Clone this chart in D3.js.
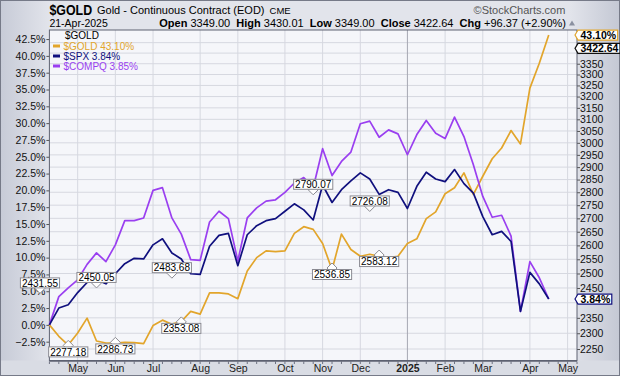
<!DOCTYPE html>
<html>
<head>
<meta charset="utf-8">
<script src="https://cdn.jsdelivr.net/npm/d3@7"></script>
<style>
  body { margin: 0; background: #fff; }
  svg { display: block; font-family: "Liberation Sans", Arial, sans-serif; }
</style>
</head>
<body>
<script>
// weekly closes, % change since week of 15-Apr-2024
const gold = [0, -1.7, -3.0, -1.2, 1.0, -2.4, -2.7, -2.7, -2.6, -2.65, -2.8,
  -0.1, 0.7, 0.1, 0.5, 2.0, 1.6, 4.75, 4.75, 4.6, 3.9, 8.0,
  10.0, 11.0, 10.9, 11.0, 13.6, 14.6, 14.2, 12.1, 8.2, 13.5, 11.2,
  10.2, 10.5, 10.2, 10.0, 10.2, 12.1, 12.8, 15.8, 16.8, 19.5, 20.4,
  22.6, 19.4, 22.1, 24.7, 26.3, 28.9, 26.9, 35.2, 38.9, 43.1];
const spx = [0, 2.5, 3.0, 4.8, 6.3, 6.7, 6.1, 7.6, 9.1, 9.9, 9.8,
  11.9, 12.8, 10.7, 9.8, 7.6, 7.5, 11.7, 13.3, 13.6, 8.8, 13.4,
  14.75, 15.5, 15.8, 16.9, 18.0, 17.1, 15.6, 20.8, 18.2, 20.1, 21.4,
  22.6, 21.7, 19.4, 20.1, 19.7, 17.3, 20.6, 22.7, 21.7, 21.3, 23.1,
  21.0, 19.6, 16.1, 13.4, 13.9, 12.4, 2.0, 7.8, 6.1, 3.84];
const compq = [0, 4.2, 5.5, 6.7, 9.0, 10.7, 9.4, 11.9, 15.5, 15.5, 15.9,
  20.0, 20.4, 15.9, 13.5, 9.7, 9.6, 15.3, 16.9, 15.8, 9.5, 15.9,
  17.4, 18.4, 18.6, 19.7, 21.1, 21.9, 20.4, 26.2, 22.2, 24.3, 25.7,
  29.9, 30.3, 27.9, 29.0, 28.4, 25.3, 28.3, 30.4, 28.5, 27.7, 30.9,
  28.0, 23.8, 19.1, 16.0, 16.3, 13.2, 2.0, 9.4, 7.0, 3.85];

const seriesNames = ["$GOLD", "$SPX", "$COMPQ"];
const seriesLabels = ["$GOLD 43.10%", "$SPX 3.84%", "$COMPQ 3.85%"];
const seriesColors = ["#e2a52b", "#10107e", "#9a3ff0"];

// gold high/low price flags (week index, price, kind)
const annIdx = [-1, 2, 5, 7, 13, 14, 28, 30, 34, 35];
const annPrice = [2431.55, 2277.18, 2450.05, 2286.73, 2483.68, 2353.08, 2790.07, 2536.85, 2726.08, 2583.12];
const annKind = ["high", "low", "high", "low", "high", "low", "high", "low", "high", "low"];

const pctTicks = d3.range(-2.5, 43, 2.5);
const priceTicks = d3.range(2250, 3451, 50);
const lastPrice = 3422.64;

const width = 620, height = 376;
const plot = {left: 49.4, right: 577, top: 30, bottom: 360.5};

// weekly bars dated Monday
const dates = d3.timeMonday.range(new Date(2024, 3, 15), new Date(2025, 4, 13));

const xScale = d3.scaleLinear().domain([0, 56]).range([plot.left, plot.right]);
const yScale = d3.scaleLinear().domain([-5.3, 43.85]).range([plot.bottom, plot.top]);
const yPrice = d3.scaleLog().domain([2214.2, 3511.4]).range([plot.bottom, plot.top]);

// last value tags on the right
const tags = [
  {y: yScale(gold[gold.length - 1]), text: "43.10%", color: seriesColors[0]},
  {y: yPrice(lastPrice), text: lastPrice.toFixed(2), color: "#111"},
  {y: yScale(spx[spx.length - 1]), text: "3.84%", color: seriesColors[1]}
];

const svg = d3.select("body").append("svg")
  .attr("width", width)
  .attr("height", height);

const defs = svg.append("defs");
const bg = defs.append("linearGradient").attr("id", "bg").attr("x1", 0).attr("x2", 1).attr("y1", 0).attr("y2", 0);
bg.append("stop").attr("offset", "0%").attr("stop-color", "#c7cbd7");
bg.append("stop").attr("offset", "8%").attr("stop-color", "#e2e4eb");
bg.append("stop").attr("offset", "92%").attr("stop-color", "#e2e4eb");
bg.append("stop").attr("offset", "100%").attr("stop-color", "#c4c8d4");

svg.append("rect")
  .attr("x", 0.5).attr("y", 0.5)
  .attr("width", width - 1).attr("height", height - 1)
  .attr("fill", "url(#bg)")
  .attr("stroke", "#767a88");

svg.append("rect")
  .attr("x", plot.left).attr("y", plot.top)
  .attr("width", plot.right - plot.left).attr("height", plot.bottom - plot.top)
  .attr("fill", "#f5f6fa");

// header
const header = svg.append("g");
header.append("text").attr("x", 49.4).attr("y", 14.5)
  .attr("font-size", 15).attr("font-weight", "bold")
  .attr("textLength", 42.7).attr("lengthAdjust", "spacingAndGlyphs")
  .text("$GOLD");
const subT = header.append("text").attr("x", 97).attr("y", 14)
  .attr("font-size", 11)
  .text("Gold - Continuous Contract (EOD)");
const subEnd = 97 + subT.node().getComputedTextLength();
header.append("text").attr("x", subEnd + 5).attr("y", 14)
  .attr("font-size", 9.5)
  .text("CME");
header.append("text").attr("x", 565.4).attr("y", 14)
  .attr("text-anchor", "end").attr("font-size", 11).attr("fill", "#555")
  .text("\u00a9StockCharts.com");
header.append("text").attr("x", 49.4).attr("y", 26.5)
  .attr("font-size", 10.5)
  .text("21-Apr-2025");

const ohlc = header.append("text").attr("x", 566).attr("y", 26.5)
  .attr("text-anchor", "end").attr("font-size", 11);
[["Open", " 3349.00  "], ["High", " 3430.01  "], ["Low", " 3349.00  "],
 ["Close", " 3422.64  "], ["Chg", " +96.37 (+2.90%)"]].forEach(p => {
  ohlc.append("tspan").attr("font-weight", "bold").text(p[0]);
  ohlc.append("tspan").attr("xml:space", "preserve").text(p[1]);
});
header.append("path")
  .attr("d", "M569,25.5 L575,25.5 L572,20.5 Z")
  .attr("fill", "#8a90a0");

// grid
const monthIdx = d3.range(1, dates.length).filter(i => dates[i].getMonth() !== dates[i - 1].getMonth());

svg.append("g").selectAll("line")
  .data(priceTicks)
  .join("line")
  .attr("x1", plot.left).attr("x2", plot.right)
  .attr("y1", d => yPrice(d)).attr("y2", d => yPrice(d))
  .attr("stroke", "#d6d8e0");

svg.append("g").selectAll("line")
  .data(monthIdx)
  .join("line")
  .attr("x1", d => xScale(d)).attr("x2", d => xScale(d))
  .attr("y1", plot.top).attr("y2", plot.bottom)
  .attr("stroke", d => dates[d].getMonth() === 0 ? "#a6a8b2" : "#d6d8e0");

// axes
const yAxis = d3.axisLeft(yScale)
  .tickValues(pctTicks)
  .tickFormat(d => d3.format(".1f")(d) + "%")
  .tickSize(3).tickPadding(1);
const gy = svg.append("g")
  .attr("transform", `translate(${plot.left},0)`)
  .call(yAxis);
gy.select(".domain").remove();
gy.selectAll("line").attr("stroke", "#555");
gy.selectAll("text").attr("font-size", 10.5).attr("fill", "#111").attr("font-family", null);

// price labels hidden behind the value tags are not drawn
const yAxisR = d3.axisRight(yPrice)
  .tickValues(priceTicks)
  .tickFormat(d => tags.some(tg => Math.abs(tg.y - yPrice(d)) < 6.5) ? "" : d3.format("d")(d))
  .tickSize(3).tickPadding(0);
const gr = svg.append("g")
  .attr("transform", `translate(${plot.right},0)`)
  .call(yAxisR);
gr.select(".domain").remove();
gr.selectAll("line").attr("stroke", "#555");
gr.selectAll("text").attr("font-size", 10.5).attr("fill", "#111").attr("font-family", null);

svg.append("rect")
  .attr("x", 1).attr("y", plot.bottom)
  .attr("width", width - 2).attr("height", height - plot.bottom - 1)
  .attr("fill", "#d9dce4");

const xAxis = d3.axisBottom(xScale)
  .tickValues(monthIdx)
  .tickFormat(i => dates[i].getMonth() === 0 ? d3.timeFormat("%Y")(dates[i]) : d3.timeFormat("%b")(dates[i]))
  .tickSize(0).tickPadding(4);
const gx = svg.append("g")
  .attr("transform", `translate(0,${plot.bottom})`)
  .call(xAxis);
gx.select(".domain").remove();
gx.selectAll("text")
  .attr("font-size", 10.5).attr("fill", "#222").attr("font-family", null)
  .attr("font-weight", i => dates[i].getMonth() === 0 ? "bold" : null);

svg.append("g").selectAll("line")
  .data(d3.range(0, 57))
  .join("line")
  .attr("x1", d => xScale(d)).attr("x2", d => xScale(d))
  .attr("y1", plot.bottom + 1).attr("y2", plot.bottom + 3.5)
  .attr("stroke", "#6e7282");

svg.append("rect")
  .attr("x", plot.left).attr("y", plot.top)
  .attr("width", plot.right - plot.left).attr("height", plot.bottom - plot.top)
  .attr("fill", "none").attr("stroke", "#5e6272");
svg.append("line")
  .attr("x1", plot.left).attr("x2", plot.right)
  .attr("y1", plot.bottom + 0.5).attr("y2", plot.bottom + 0.5)
  .attr("stroke", "#5e6272").attr("stroke-width", 1.5);

// lines
const line = d3.line()
  .x((d, i) => xScale(i))
  .y(d => yScale(d));

const plotG = svg.append("g");
[gold, compq, spx].forEach(s => {
  const k = s === gold ? 0 : s === spx ? 1 : 2;
  plotG.append("path")
    .attr("d", line(s))
    .attr("fill", "none")
    .attr("stroke", seriesColors[k])
    .attr("stroke-width", 1.7)
    .attr("stroke-linejoin", "round");
});

// price flags
annIdx.forEach((idx, j) => {
  const x = xScale(idx);
  const tip = yPrice(annPrice[j]);
  const up = annKind[j] === "high";
  const s = up ? -1 : 1;
  const g = svg.append("g");
  g.append("path")
    .attr("d", `M${x},${tip} L${x + 5},${tip + s * 5} L${x},${tip + s * 10} L${x - 5},${tip + s * 5} Z`)
    .attr("fill", "#fff").attr("stroke", "#8a8a92");
  const t = g.append("text")
    .attr("x", x)
    .attr("font-size", 10)
    .attr("text-anchor", "middle")
    .text(annPrice[j].toFixed(2));
  const w = t.node().getComputedTextLength() + 3;
  const bTop = up ? tip - 15.5 : tip + 6.5;
  g.insert("rect", "text")
    .attr("x", x - w / 2).attr("y", bTop)
    .attr("width", w).attr("height", 10)
    .attr("fill", "#fff").attr("stroke", "#8a8a92");
  t.attr("y", bTop + 8.7);
});

// legend
const legend = svg.append("g");
legend.append("text").attr("x", 65).attr("y", 38.5).attr("font-size", 10).text("$GOLD");
seriesLabels.forEach((lab, k) => {
  const y = 49.5 + k * 10;
  legend.append("line")
    .attr("x1", 53).attr("x2", 60).attr("y1", y - 3.5).attr("y2", y - 3.5)
    .attr("stroke", seriesColors[k]).attr("stroke-width", 3);
  legend.append("text").attr("x", 63.5).attr("y", y)
    .attr("font-size", 10).attr("fill", seriesColors[k])
    .text(lab);
});

tags.forEach(tg => {
  const g = svg.append("g");
  const t = g.append("text")
    .attr("x", 580.5).attr("y", tg.y + 3.8)
    .attr("font-size", 10.5).attr("font-weight", "bold")
    .text(tg.text);
  const w = t.node().getComputedTextLength() + 4;
  const x0 = 578, y0 = tg.y - 5;
  g.insert("path", "text")
    .attr("d", `M${x0 - 3},${tg.y} L${x0},${y0} L${x0 + w},${y0} L${x0 + w},${y0 + 10} L${x0},${y0 + 10} Z`)
    .attr("fill", "#fff").attr("stroke", tg.color).attr("stroke-width", 1.2);
});
</script>
</body>
</html>
